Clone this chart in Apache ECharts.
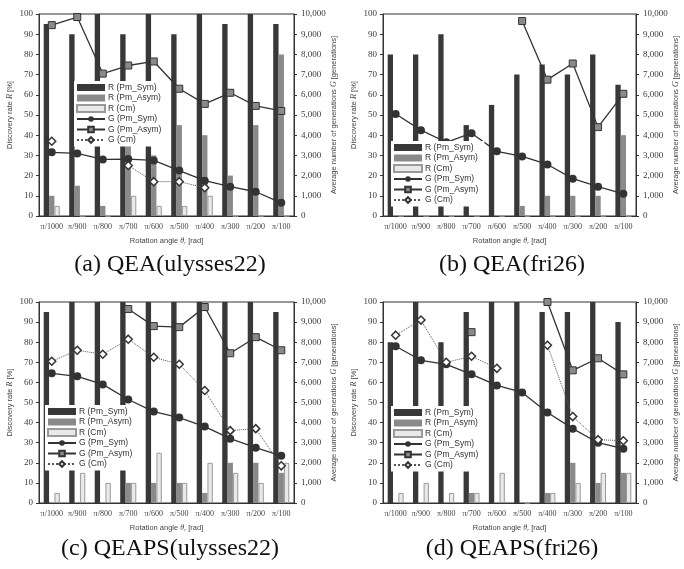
<!DOCTYPE html>
<html>
<head>
<meta charset="UTF-8">
<title>Discovery rate and generations</title>
<script src="https://cdn.jsdelivr.net/npm/echarts@6/dist/echarts.min.js"></script>
<style>
  html, body { margin: 0; padding: 0; background: #fff; }
  #chart { width: 684px; height: 569px; }
</style>
</head>
<body>
<div id="chart"></div>
<script>
// x categories (rotation angle)
const categories = ['π/1000', 'π/900', 'π/800', 'π/700', 'π/600', 'π/500', 'π/400', 'π/300', 'π/200', 'π/100'];
const seriesNames = ['R (Pm_Sym)', 'R (Pm_Asym)', 'R (Cm)', 'G (Pm_Sym)', 'G (Pm_Asym)', 'G (Cm)'];
const rateTicks = [0, 100, 10];      // min, max, interval
const genTicks = [0, 10000, 1000];

// (a) QEA(ulysses22)
const aRSym = [95, 90, 100, 90, 100, 90, 100, 95, 100, 95];
const aRAsym = [10, 15, 5, 35, 30, 45, 40, 20, 45, 80];
const aRCm = [5, 0, 0, 10, 5, 5, 10, 0, 0, 0];
const aGSym = [3150, 3100, 2800, 2820, 2750, 2250, 1750, 1450, 1200, 650];
const aGAsym = [9450, 9850, 7050, 7450, 7650, 6300, 5550, 6100, 5450, 5200];
const aGCm = [3700, null, null, 2500, 1700, 1700, 1400, null, null, null];

// (b) QEA(fri26)
const bRSym = [80, 80, 90, 45, 55, 70, 75, 70, 80, 65];
const bRAsym = [0, 0, 0, 0, 0, 5, 10, 10, 10, 40];
const bRCm = [0, 0, 0, 0, 0, 0, 0, 0, 0, 0];
const bGSym = [5050, 4250, 3650, 4100, 3200, 2950, 2550, 1850, 1450, 1100];
const bGAsym = [null, null, null, null, null, 9650, 6750, 7550, 4400, 6050];
const bGCm = [null, null, null, null, null, null, null, null, null, null];

// (c) QEAPS(ulysses22)
const cRSym = [95, 100, 100, 100, 100, 100, 100, 100, 100, 95];
const cRAsym = [0, 0, 0, 10, 10, 10, 5, 20, 20, 15];
const cRCm = [5, 15, 10, 10, 25, 10, 20, 15, 10, 20];
const cGSym = [6450, 6300, 5900, 5150, 4550, 4250, 3800, 3200, 2750, 2350];
const cGAsym = [null, null, null, 9650, 8800, 8750, 9750, 7450, 8250, 7600];
const cGCm = [7050, 7600, 7400, 8150, 7250, 6900, 5600, 3600, 3700, 1850];

// (d) QEAPS(fri26)
const dRSym = [80, 100, 80, 95, 100, 100, 95, 95, 100, 90];
const dRAsym = [0, 0, 0, 5, 0, 0, 5, 20, 10, 15];
const dRCm = [5, 10, 5, 5, 15, 0, 5, 10, 15, 15];
const dGSym = [7800, 7100, 6900, 6400, 5850, 5500, 4500, 3700, 3000, 2700];
const dGAsym = [null, null, null, 8500, null, null, 10000, 6600, 7200, 6400];
const dGCm = [8350, 9100, 7000, 7300, 6700, null, 7850, 4300, 3150, 3100];

const captions = ['(a) QEA(ulysses22)', '(b) QEA(fri26)', '(c) QEAPS(ulysses22)', '(d) QEAPS(fri26)'];

const panels = [
  { grid: { left: 39, top: 14, width: 255, height: 202 }, legend: { left: 74, top: 81 }, cap: [170, 265],
    data: [aRSym, aRAsym, aRCm, aGSym, aGAsym, aGCm] },
  { grid: { left: 383, top: 14, width: 253, height: 202 }, legend: { left: 391, top: 141 }, cap: [512, 265],
    data: [bRSym, bRAsym, bRCm, bGSym, bGAsym, bGCm] },
  { grid: { left: 39, top: 302, width: 255, height: 201 }, legend: { left: 45, top: 405 }, cap: [170, 549],
    data: [cRSym, cRAsym, cRCm, cGSym, cGAsym, cGCm] },
  { grid: { left: 383, top: 302, width: 253, height: 201 }, legend: { left: 391, top: 406 }, cap: [512, 549],
    data: [dRSym, dRAsym, dRCm, dGSym, dGAsym, dGCm] },
];

const SERIF = '"Liberation Serif", "DejaVu Serif", serif';
const SANS = '"Liberation Sans", "DejaVu Sans", sans-serif';
const DARK = '#333333';

const barStyles = [
  { color: '#383838' },
  { color: '#8a8a8a' },
  { color: '#e9e9e9', borderColor: '#9a9a9a', borderWidth: 1 },
];

const lineStyles = [
  { symbol: 'circle', symbolSize: 8, itemStyle: { color: DARK }, lineStyle: { color: DARK, width: 1.3 } },
  { symbol: 'rect', symbolSize: 7, itemStyle: { color: '#8a8a8a', borderColor: DARK, borderWidth: 1 },
    lineStyle: { color: DARK, width: 1.3 } },
  { symbol: 'diamond', symbolSize: 8, itemStyle: { color: '#fff', borderColor: DARK, borderWidth: 1.5 },
    lineStyle: { color: '#555', width: 1, type: 'dotted' } },
];

// legend entries: bars get plain rectangles
const legendData = seriesNames.map((n, k) => (k < 3 ? { name: n, icon: 'rect' } : { name: n }));

function fmtThousands(v) {
  return String(v).replace(/\B(?=(\d{3})+(?!\d))/g, ',');
}

const grids = [], xAxes = [], yAxes = [], legends = [], series = [], graphics = [];

panels.forEach((p, i) => {
  grids.push(Object.assign({ show: true, borderColor: DARK, borderWidth: 1, backgroundColor: '#fff' }, p.grid));

  xAxes.push({
    type: 'category', gridIndex: i, data: categories,
    axisLine: { lineStyle: { color: DARK } },
    axisTick: { show: false },
    axisLabel: { interval: 0, fontFamily: SERIF, fontSize: 8, color: '#444', margin: 7 },
    name: 'Rotation angle {i|θ}{s|r} [rad]', nameLocation: 'middle', nameGap: 20,
    nameTextStyle: {
      fontFamily: SANS, fontSize: 7.5, color: '#444',
      rich: { i: { fontFamily: SERIF, fontStyle: 'italic', fontSize: 8, color: '#444' },
              s: { fontFamily: SERIF, fontStyle: 'italic', fontSize: 5, color: '#444', padding: [4, 0, 0, 0] } }
    }
  });

  yAxes.push({
    type: 'value', gridIndex: i, position: 'left',
    min: rateTicks[0], max: rateTicks[1], interval: rateTicks[2],
    splitLine: { show: false },
    axisLine: { show: true, lineStyle: { color: DARK } },
    axisTick: { show: true, length: 3, lineStyle: { color: DARK } },
    axisLabel: { fontFamily: SERIF, fontSize: 9, color: '#3a3a3a', margin: 6 },
    name: 'Discovery rate {i|R} [%]', nameLocation: 'middle', nameGap: 25, nameRotate: 90,
    nameTextStyle: {
      fontFamily: SANS, fontSize: 7.5, color: '#444',
      rich: { i: { fontFamily: SERIF, fontStyle: 'italic', fontSize: 8, color: '#444' } }
    }
  });

  yAxes.push({
    type: 'value', gridIndex: i, position: 'right',
    min: genTicks[0], max: genTicks[1], interval: genTicks[2],
    splitLine: { show: false },
    axisLine: { show: true, lineStyle: { color: DARK } },
    axisTick: { show: true, length: 3, lineStyle: { color: DARK } },
    axisLabel: { fontFamily: SERIF, fontSize: 9, color: '#3a3a3a', margin: 7, formatter: fmtThousands },
    name: 'Average number of generations {i|G} [generations]', nameLocation: 'middle', nameGap: 36, nameRotate: 90,
    nameTextStyle: {
      fontFamily: SANS, fontSize: 7.5, color: '#444',
      rich: { i: { fontFamily: SERIF, fontStyle: 'italic', fontSize: 8, color: '#444' } }
    }
  });

  legends.push({
    left: p.legend.left, top: p.legend.top, orient: 'vertical',
    data: legendData, backgroundColor: '#fff',
    itemWidth: 28, itemHeight: 7, itemGap: 1.5, padding: [2, 6, 2, 2],
    selectedMode: false,
    textStyle: { fontFamily: SANS, fontSize: 8.5, lineHeight: 9, color: '#333', padding: [0, 0, 0, -2] }
  });

  for (let k = 0; k < 3; k++) {
    series.push({
      type: 'bar', name: seriesNames[k], data: p.data[k],
      xAxisIndex: i, yAxisIndex: 2 * i,
      barGap: '0%', barCategoryGap: '37%',
      itemStyle: barStyles[k],
      z: 2
    });
  }
  for (let k = 0; k < 3; k++) {
    series.push(Object.assign({
      type: 'line', name: seriesNames[3 + k], data: p.data[3 + k],
      xAxisIndex: i, yAxisIndex: 2 * i + 1,
      connectNulls: false, showAllSymbol: true,
      z: 3 + k
    }, lineStyles[k]));
  }

  // panel caption under each chart
  graphics.push({
    type: 'text', z: 10,
    x: p.cap[0], y: p.cap[1],
    style: { text: captions[i], x: 0, y: 0, font: '24px ' + SERIF, fill: '#111', align: 'center', verticalAlign: 'middle' }
  });
});

const chart = echarts.init(document.getElementById('chart'), null, { renderer: 'canvas' });
chart.setOption({
  animation: false,
  backgroundColor: '#fff',
  grid: grids,
  xAxis: xAxes,
  yAxis: yAxes,
  legend: legends,
  series: series,
  graphic: graphics
});
</script>
</body>
</html>
